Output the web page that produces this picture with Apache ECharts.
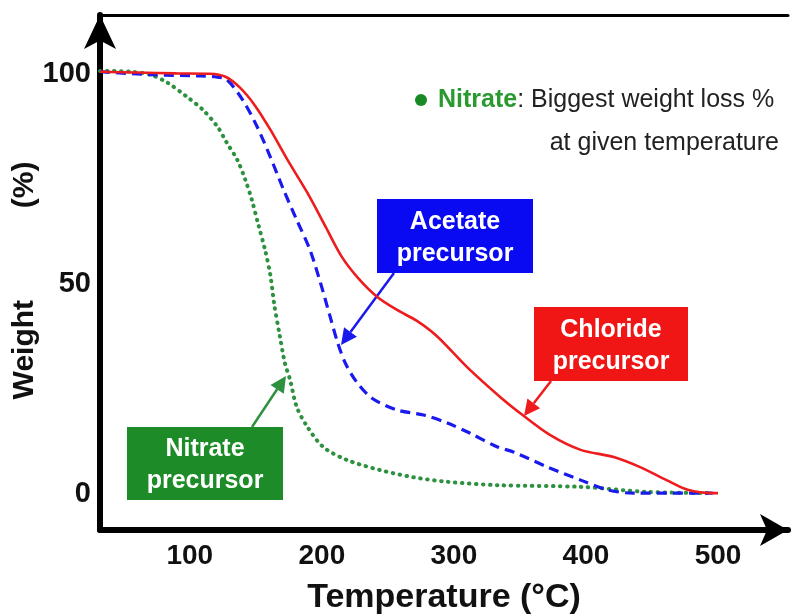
<!DOCTYPE html>
<html>
<head>
<meta charset="utf-8">
<script src="https://cdn.jsdelivr.net/npm/echarts@6/dist/echarts.min.js"></script>
<style>
  html, body { margin: 0; padding: 0; background: #fff; }
  #chart { width: 792px; height: 614px; }
</style>
</head>
<body>
<div id="chart"></div>
<script>
// TGA curves, [temperature °C, weight %]
const chloride = [
  [32, 100.5], [60, 100.3], [90, 100.1], [115, 100], [127, 99.3], [138, 96.7],
  [149, 92.6], [161, 86.7], [174, 79.5], [189, 71.7], [203, 63.5], [215, 56.5],
  [228, 51.2], [242, 46.9], [257, 43.8], [272, 41.2], [287, 37.6], [310, 30.2],
  [335, 23.1], [352, 18.8], [373, 14], [396, 10.5], [421, 8.8], [441, 6.4],
  [461, 3.3], [477, 1], [496, 0.2], [500, 0.2]
]
const acetate = [
  [32, 100.5], [70, 99.8], [108, 99.5], [119, 99.3], [128, 98.6], [140, 93.8],
  [151, 87.4], [161, 80.2], [171, 72.4], [181, 65.2], [191, 58.1], [199, 50.2],
  [206, 42.5], [212, 36], [218, 31], [226, 26.8], [238, 22.8], [257, 20],
  [277, 18.8], [295, 16.9], [312, 14.5], [333, 11.2], [345, 10], [371, 6.4],
  [396, 3.3], [416, 1], [436, 0.2], [496, 0.2]
]
const nitrate = [
  [32, 100.7], [55, 100.5], [70, 99.8], [83, 97.9], [98, 94.5], [110, 91.4],
  [121, 87.4], [128, 83.6], [136, 79.5], [142, 74.8], [147, 70], [152, 64],
  [157, 58.1], [161, 52.1], [164, 45], [168, 37.9], [172, 31.2], [176, 27.1],
  [181, 20.7], [189, 16], [201, 11.2], [219, 8.1], [244, 5.7], [269, 4],
  [295, 2.9], [333, 2.1], [396, 1.7], [446, 0.5], [496, 0.2]
]
const xTicks = [100, 200, 300, 400, 500]
const yTicks = [0, 50, 100]

const FONT = 'Liberation Sans, Arial, sans-serif'

function box(x, y, w, h, color, lines) {
  return {
    type: 'group',
    children: [
      { type: 'rect', shape: { x: x, y: y, width: w, height: h }, style: { fill: color } },
      {
        type: 'text',
        x: x + w / 2,
        y: y + h / 2 + 2,
        style: {
          text: lines.join('\n'),
          fill: '#fff',
          font: 'bold 25px ' + FONT,
          lineHeight: 32,
          align: 'center',
          verticalAlign: 'middle'
        }
      }
    ]
  }
}

function arrow(x1, y1, x2, y2, color) {
  const a = Math.atan2(y2 - y1, x2 - x1)
  const len = 16, half = 8
  const bx = x2 - len * Math.cos(a), by = y2 - len * Math.sin(a)
  const px = -Math.sin(a) * half, py = Math.cos(a) * half
  return {
    type: 'group',
    children: [
      { type: 'line', shape: { x1: x1, y1: y1, x2: bx, y2: by }, style: { stroke: color, lineWidth: 2.5 } },
      {
        type: 'polygon',
        shape: { points: [[x2, y2], [bx + px, by + py], [bx - px, by - py]] },
        style: { fill: color }
      }
    ]
  }
}

const chart = echarts.init(document.getElementById('chart'))
chart.setOption({
  backgroundColor: '#ffffff',
  animation: false,
  grid: { left: 100, right: 4, top: 15, bottom: 84, outerBoundsMode: 'none', containLabel: false },
  xAxis: [
    {
      type: 'value',
      min: 32,
      max: 553,
      name: 'Temperature (°C)',
      nameLocation: 'middle',
      nameGap: 51,
      nameMoveOverlap: false,
      nameTextStyle: { fontSize: 34, fontWeight: 'bold', color: '#111', fontFamily: FONT },
      axisLine: {
        onZero: false,
        symbol: ['none', 'arrow'],
        symbolSize: [24, 28],
        lineStyle: { color: '#000', width: 6 }
      },
      axisTick: { show: false },
      splitLine: { show: false },
      axisLabel: {
        customValues: xTicks,
        margin: 12,
        fontSize: 28,
        fontWeight: 'bold',
        color: '#111',
        fontFamily: FONT
      }
    },
    {
      type: 'value',
      position: 'top',
      min: 32,
      max: 553,
      axisLine: { show: true, onZero: false, lineStyle: { color: '#000', width: 3 } },
      axisTick: { show: false },
      axisLabel: { show: false },
      splitLine: { show: false }
    }
  ],
  yAxis: {
    type: 'value',
    min: -8.57,
    max: 114,
    name: 'Weight           (%)',
    nameLocation: 'middle',
    nameGap: 60,
    nameMoveOverlap: false,
    nameTextStyle: { fontSize: 30, fontWeight: 'bold', color: '#111', fontFamily: FONT, padding: [0, 16, 0, 0] },
    axisLine: {
      show: true,
      onZero: false,
      symbol: ['none', 'arrow'],
      symbolSize: [24, 34],
      lineStyle: { color: '#000', width: 6 }
    },
    axisTick: { show: false },
    splitLine: { show: false },
    axisLabel: {
      customValues: yTicks,
      margin: 9,
      fontSize: 29,
      fontWeight: 'bold',
      color: '#111',
      fontFamily: FONT
    }
  },
  series: [
    {
      name: 'Nitrate precursor',
      type: 'line',
      data: nitrate,
      smooth: 0.3,
      showSymbol: false,
      lineStyle: { color: '#2e9140', width: 4, type: [0.5, 6.5], cap: 'round' }
    },
    {
      name: 'Acetate precursor',
      type: 'line',
      data: acetate,
      smooth: 0.3,
      showSymbol: false,
      lineStyle: { color: '#1a1aef', width: 3.2, type: [10, 6] }
    },
    {
      name: 'Chloride precursor',
      type: 'line',
      data: chloride,
      smooth: 0.3,
      showSymbol: false,
      lineStyle: { color: '#ee1c1c', width: 2.6 }
    }
  ],
  graphic: [
    {
      type: 'circle',
      shape: { cx: 421, cy: 100, r: 6 },
      style: { fill: '#178a26' }
    },
    {
      type: 'text',
      x: 438,
      y: 100,
      style: {
        text: '{g|Nitrate}: Biggest weight loss %',
        font: '25px ' + FONT,
        fill: '#222',
        verticalAlign: 'middle',
        rich: { g: { fill: '#2a9a30', fontWeight: 'bold', fontSize: 25, fontFamily: FONT } }
      }
    },
    {
      type: 'text',
      x: 779,
      y: 143,
      style: { text: 'at given temperature', font: '25px ' + FONT, fill: '#222', align: 'right', verticalAlign: 'middle' }
    },
    box(377, 199, 156, 74, '#0a0af2', ['Acetate', 'precursor']),
    box(534, 307, 154, 74, '#f01616', ['Chloride', 'precursor']),
    box(127, 427, 156, 73, '#1d8c28', ['Nitrate', 'precursor']),
    arrow(394, 273, 341, 345, '#1a1aef'),
    arrow(551, 381, 524, 416, '#ee1c1c'),
    arrow(252, 427, 286, 376, '#2e9140')
  ]
})
</script>
</body>
</html>
